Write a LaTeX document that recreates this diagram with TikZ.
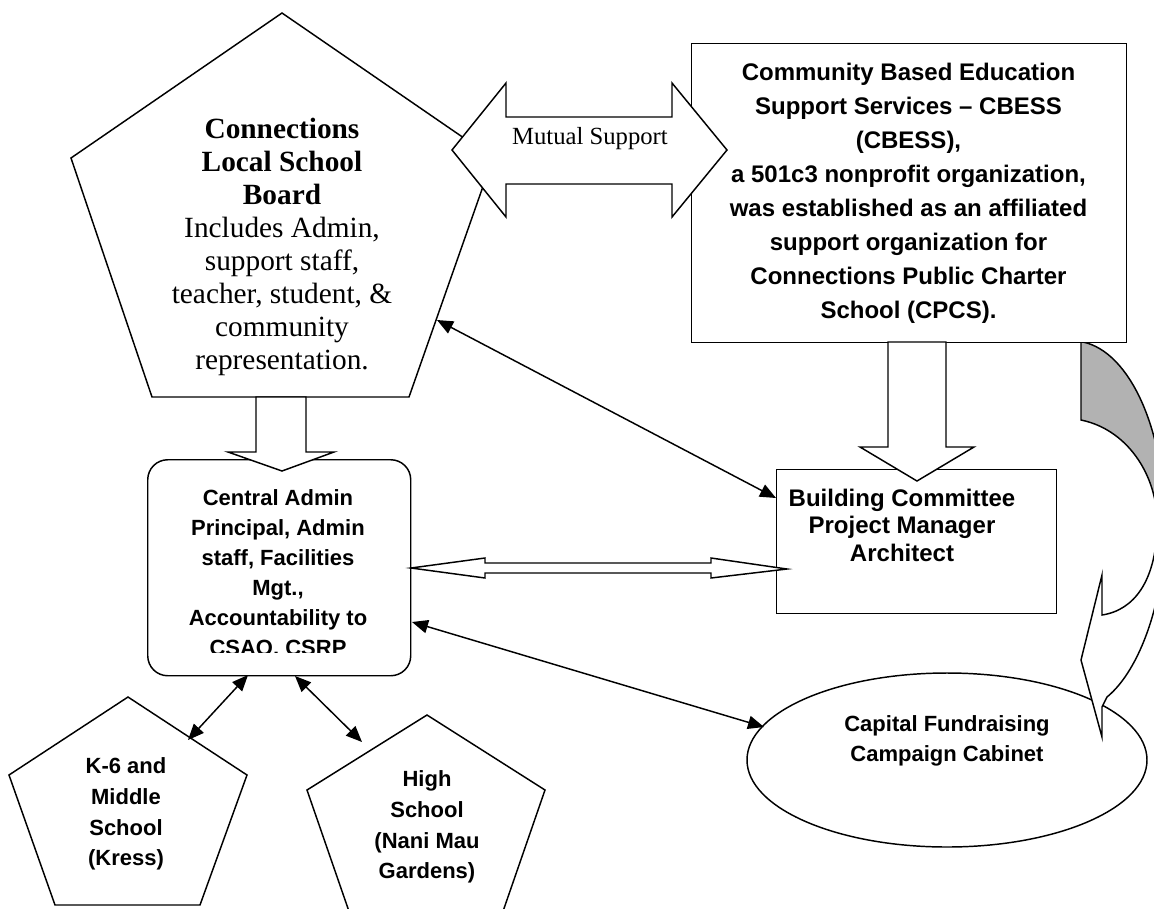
\documentclass[tikz,border=0pt]{standalone}
\usepackage{fontspec}
\setmainfont{Liberation Serif}
\setsansfont{Liberation Sans}
\usetikzlibrary{arrows.meta,shapes.geometric}
\begin{document}
\begin{tikzpicture}[x=0.75pt,y=-0.75pt,
  shp/.style={draw=black,line width=1.1pt,fill=white,line join=miter},
  conn/.style={line width=1.1pt,{Triangle[length=12pt,width=10pt]}-{Triangle[length=12pt,width=10pt]}},
  sanstxt/.style={font=\sffamily\bfseries\fontsize{16.5}{22.5}\selectfont,align=center,inner sep=0pt},
  cbtxt/.style={font=\sffamily\bfseries\fontsize{18}{25.5}\selectfont,align=center,inner sep=0pt},
  bldtxt/.style={font=\sffamily\bfseries\fontsize{18}{20.6}\selectfont,align=center,inner sep=0pt},
  schtxt/.style={font=\sffamily\bfseries\fontsize{16.5}{23}\selectfont,align=center,inner sep=0pt},
  brdtxt/.style={font=\rmfamily\fontsize{22}{24.75}\selectfont,align=center,inner sep=0pt},
  mutxt/.style={font=\rmfamily\fontsize{18.5}{22}\selectfont,inner sep=0pt}]
\useasboundingbox (0,0) rectangle (1154,908);
\clip (0,0) rectangle (1154,908);

% Board pentagon
\draw[shp] (282,13) coordinate (brdT) -- (493,158) coordinate (brdR) -- (409,397) coordinate (brdBR)
  -- (152,397) coordinate (brdBL) -- (71,158) coordinate (brdL) -- cycle;
\node[brdtxt] (board) at (282,247) {\textbf{Connections}\\\textbf{Local School}\\\textbf{Board}\\Includes Admin,\\support staff,\\teacher, student, \&\\community\\representation.};

% Capital ellipse
\node[shp,ellipse,minimum width=300pt,minimum height=130.5pt,inner sep=0pt] (cap) at (947,760) {};
\node[sanstxt] (captxt) at (947,741) {Capital Fundraising\\Campaign Cabinet};

% Curved arrow
\path[fill=white] (1081,420) -- (1081,342) -- (1083,342) .. controls (1130,352) and (1165,430) .. (1165,525)
  .. controls (1165,600) and (1140,670) .. (1107,697) -- (1102,707) -- (1102,737) -- (1081,660) -- (1102,575)
  -- (1102,615) .. controls (1135,610) and (1155,580) .. (1157,530) .. controls (1160,480) and (1130,430) .. (1081,420) -- cycle;
\fill[black!30] (1081,342) -- (1083,342) .. controls (1130,352) and (1165,430) .. (1165,525) -- (1157,530)
  .. controls (1160,480) and (1130,430) .. (1081,420) -- cycle;
\draw[line width=1.1pt] (1081,420) -- (1081,342) -- (1083,342) .. controls (1130,352) and (1165,430) .. (1165,525)
  .. controls (1165,600) and (1140,670) .. (1107,697) -- (1102,707) -- (1102,737) -- (1081,660) -- (1102,575)
  -- (1102,615) .. controls (1135,610) and (1155,580) .. (1157,530) .. controls (1160,480) and (1130,430) .. (1081,420) -- cycle;

% CBESS box
\node[shp,rectangle,anchor=north west,minimum width=326.25pt,minimum height=224.25pt,inner sep=0pt] (cbess) at (691,43) {};
\node[cbtxt] (cbesstxt) at (908.5,193) {Community Based Education\\Support Services -- CBESS\\(CBESS),\\a 501c3 nonprofit organization,\\was established as an affiliated\\support organization for\\Connections Public Charter\\School (CPCS).};

% Mutual support arrow
\draw[shp] (452,150) -- (506,83) -- (506,117) -- (672,117) -- (672,83) -- (727,150) -- (672,217) -- (672,184)
  -- (506,184) -- (506,217) -- cycle;
\node[mutxt] (mutual) at (590,139) {Mutual Support};

% Building box
\node[shp,rectangle,anchor=north west,minimum width=210pt,minimum height=108pt,inner sep=0pt] (bld) at (776,469) {};
\node[bldtxt] (bldtxt) at (902,525) {Building Committee\\Project Manager\\Architect};

% Central admin box
\node[shp,rectangle,rounded corners=15pt,anchor=north west,minimum width=197.25pt,minimum height=162pt,inner sep=0pt] (admin) at (147,459) {};
\begin{scope}
\clip (150,470) rectangle (408,652);
\node[sanstxt] (admintxt) at (278,574) {Central Admin\\Principal, Admin\\staff, Facilities\\Mgt.,\\Accountability to\\CSAO, CSRP};
\end{scope}

% Block arrow board -> admin
\draw[shp] (256,397) -- (306,397) -- (306,452) -- (334,452) -- (282,471) -- (228,452) -- (256,452) -- cycle;
% Block arrow cbess -> building
\draw[shp] (888,342) -- (946,342) -- (946,447) -- (974,447) -- (917,481) -- (860,447) -- (888,447) -- cycle;
% Horizontal double block arrow admin <-> building
\draw[shp] (411,568) -- (485,558) -- (485,563) -- (711,563) -- (711,558) -- (787,569) -- (711,578) -- (711,573)
  -- (485,573) -- (485,578) -- cycle;

% School pentagons
\draw[shp] (128,697) coordinate (k6T) -- (247,775) -- (200,905) -- (55,905) -- (9,775) -- cycle;
\node[schtxt] (k6) at (126,814) {K-6 and\\Middle\\School\\(Kress)};
\draw[shp] (427,715) coordinate (hsT) -- (545,790) -- (500,920) -- (352,920) -- (307,790) -- cycle;
\node[schtxt] (hs) at (427,827) {High\\School\\(Nani Mau\\Gardens)};

% Thin connectors
\coordinate (brdE) at (437,320);
\coordinate (bldW) at (776,498);
\coordinate (admE) at (412,622);
\coordinate (capW) at (764,727);
\coordinate (admS1) at (248,675);
\coordinate (k6E) at (188,740);
\coordinate (admS2) at (295,676);
\coordinate (hsW) at (362,742);
\draw[conn] (brdE) -- (bldW);
\draw[conn] (admE) -- (capW);
\draw[conn] (admS1) -- (k6E);
\draw[conn] (admS2) -- (hsW);
\end{tikzpicture}
\end{document}
